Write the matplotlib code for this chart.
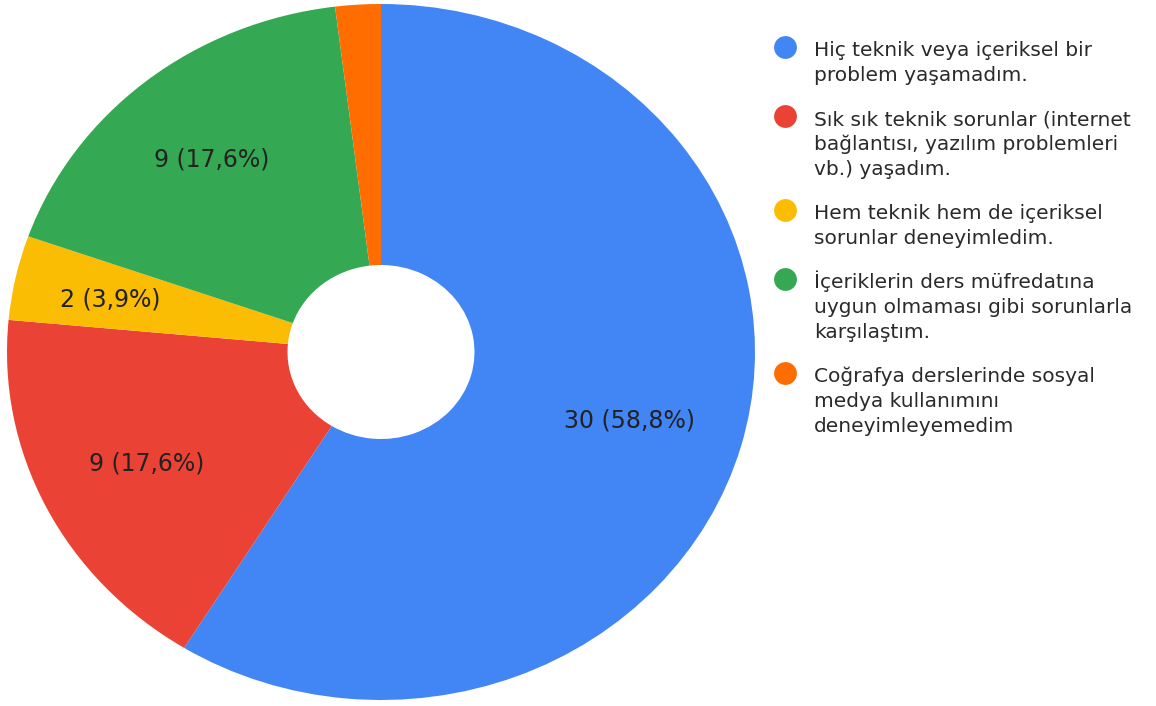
import matplotlib.pyplot as plt
import numpy as np

plt.rcParams['font.family'] = ['DejaVu Sans']

# Survey answers (counts)
categories = [
    "Hiç teknik veya içeriksel bir\nproblem yaşamadım.",
    "Sık sık teknik sorunlar (internet\nbağlantısı, yazılım problemleri\nvb.) yaşadım.",
    "Hem teknik hem de içeriksel\nsorunlar deneyimledim.",
    "İçeriklerin ders müfredatına\nuygun olmaması gibi sorunlarla\nkarşılaştım.",
    "Coğrafya derslerinde sosyal\nmedya kullanımını\ndeneyimleyemedim",
]
counts = [30, 9, 2, 9, 1]
colors = ["#4285F4", "#EA4335", "#FBBC04", "#34A853", "#FF6D01"]
label_dist = [0.69, 0.70, 0.74, 0.72, 0.7]

W, H = 1156, 706
fig = plt.figure(figsize=(W / 100, H / 100), dpi=100)

# pie axes (Google stretches the pie slightly horizontally)
ax = fig.add_axes([7 / W, 6 / H, 748 / W, 696 / H])
total = sum(counts)


def fmt(pct):
    n = int(round(pct * total / 100))
    if pct < 2.5:
        return ""
    return f"{n} ({pct:.1f}%)".replace(".", ",")


wedges, texts, autotexts = ax.pie(
    counts, colors=colors, startangle=90, counterclock=False,
    autopct=fmt, pctdistance=0.7,
    wedgeprops=dict(width=0.75, linewidth=0),
    textprops=dict(fontsize=17, color="#222222"),
)
for w, t, d in zip(wedges, autotexts, label_dist):
    ang = np.deg2rad((w.theta1 + w.theta2) / 2)
    t.set_position((d * np.cos(ang), d * np.sin(ang) - 0.008))
    t.set_ha("center")
    t.set_va("center")
ax.set_aspect("auto")
ax.set_xlim(-1, 1)
ax.set_ylim(-1, 1)
ax.axis("off")

# legend drawn in pixel coordinates
lg = fig.add_axes([0, 0, 1, 1])
lg.set_xlim(0, W)
lg.set_ylim(H, 0)
lg.axis("off")
y = 47
line_h = 25
gap = 19
for lab, c in zip(categories, colors):
    lines = lab.split("\n")
    lg.scatter([785], [y], s=270, color=c, linewidths=0)
    for i, ln in enumerate(lines):
        lg.text(814, y + i * line_h + 9, ln, fontsize=14.5, color="#2a2a2a",
                va="baseline", ha="left")
    y += len(lines) * line_h + gap

fig.savefig("out.png", dpi=100)
